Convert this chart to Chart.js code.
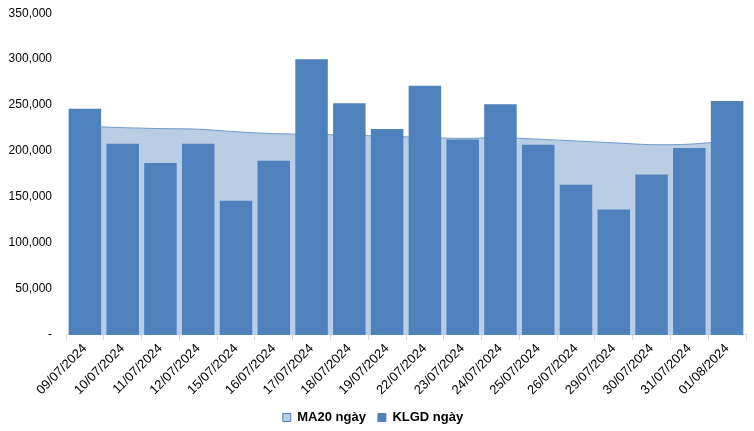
<!DOCTYPE html>
<html>
<head>
<meta charset="utf-8">
<script src="https://cdn.jsdelivr.net/npm/chart.js@4"></script>
<style>
  html, body { margin: 0; padding: 0; background: #fff; }
  #wrap { width: 754px; height: 431px; }
</style>
</head>
<body>
<div id="wrap"><canvas id="volChart"></canvas></div>
<script>
var dates = ["09/07/2024", "10/07/2024", "11/07/2024", "12/07/2024", "15/07/2024", "16/07/2024",
  "17/07/2024", "18/07/2024", "19/07/2024", "22/07/2024", "23/07/2024", "24/07/2024",
  "25/07/2024", "26/07/2024", "29/07/2024", "30/07/2024", "31/07/2024", "01/08/2024"];

var klgd = [246000, 208000, 187000, 208000, 146000, 189500, 300000, 252000, 224000,
  271000, 212500, 251000, 207000, 163500, 136500, 174500, 203500, 254500];

var ma20 = [227000, 225500, 224500, 223800, 221000, 219000, 218300, 217300, 216200,
  214800, 213800, 214500, 213000, 211000, 209000, 207000, 207500, 211000];

var yTicks = [0, 50000, 100000, 150000, 200000, 250000, 300000, 350000];

const ctx = document.getElementById("volChart");
new Chart(ctx, {
  type: "bar",
  data: {
    labels: dates,
    datasets: [
      {
        type: "line",
        label: "MA20 ngày",
        data: ma20,
        order: 2,
        borderColor: "#6F98CC",
        borderWidth: 1,
        backgroundColor: "#B9CDE5",
        fill: "origin",
        pointRadius: 0,
        tension: 0.3,
      },
      {
        type: "bar",
        label: "KLGD ngày",
        data: klgd,
        order: 1,
        backgroundColor: "#4F81BD",
        barPercentage: 0.86,
        categoryPercentage: 1,
      },
    ],
  },
  options: {
    responsive: true,
    maintainAspectRatio: false,
    animation: false,
    layout: { padding: { left: 0, right: 8, top: -3, bottom: -3 } },
    plugins: {
      tooltip: { enabled: false },
      legend: {
        position: "bottom",
        labels: {
          boxWidth: 8,
          boxHeight: 8,
          padding: 12,
          color: "#000",
          font: { family: "'Liberation Sans Narrow', 'Liberation Sans', Arial", size: 13, weight: "bold" },
          generateLabels: function (chart) {
            return chart.data.datasets.map(function (ds, i) {
              return {
                text: ds.label,
                fillStyle: ds.backgroundColor,
                strokeStyle: i === 0 ? "#4F81BD" : ds.backgroundColor,
                lineWidth: 1,
                datasetIndex: i,
              };
            });
          },
        },
      },
    },
    scales: {
      x: {
        grid: { display: true, drawOnChartArea: false, offset: true, tickLength: 5, color: "#D9D9D9" },
        border: { color: "#D9D9D9" },
        ticks: {
          maxRotation: 45,
          minRotation: 45,
          autoSkip: false,
          padding: 1,
          color: "#000",
          font: { family: "'Liberation Sans', Arial", size: 13 },
        },
      },
      y: {
        min: 0,
        max: 350000,
        afterBuildTicks: function (axis) {
          axis.ticks = yTicks.map(function (v) { return { value: v }; });
        },
        afterFit: function (axis) { axis.width = 66; },
        grid: { display: false },
        border: { display: false },
        ticks: {
          padding: 6,
          color: "#000",
          font: { family: "'Liberation Sans', Arial", size: 12 },
          callback: function (v) { return v === 0 ? "-" : v.toLocaleString("en-US"); },
        },
      },
    },
  },
});
</script>
</body>
</html>
